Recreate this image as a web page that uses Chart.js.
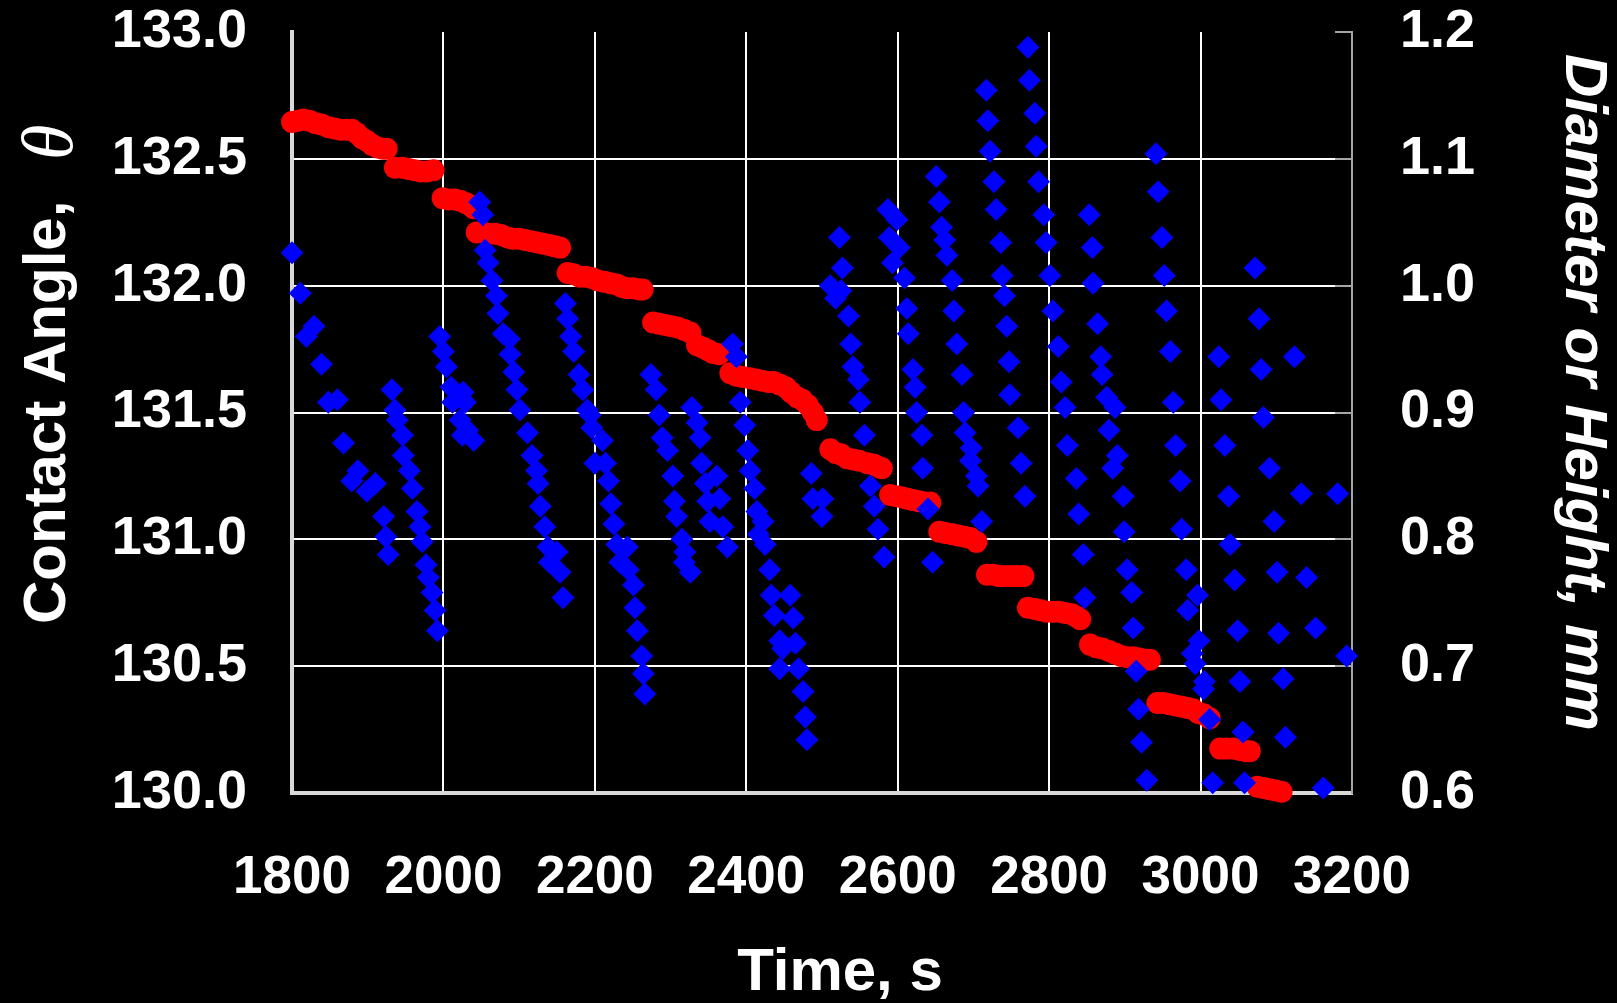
<!DOCTYPE html>
<html>
<head>
<meta charset="utf-8">
<script src="https://cdn.jsdelivr.net/npm/chart.js@4.4.1/dist/chart.umd.min.js"></script>
<style>
  html, body { margin: 0; padding: 0; background: #000; }
  canvas { display: block; }
</style>
</head>
<body>
<canvas id="chart" width="1617" height="1003"></canvas>
<script>
// contact angle readings (blue diamonds, left axis)
const angleTime = [
  1800, 1811, 1819, 1829, 1839, 1848, 1860, 1868, 1879, 1887, 1899, 1910, 1921, 1924, 1927,
  1932, 1936, 1939, 1946, 1947, 1955, 1959, 1965, 1969, 1972, 1977, 1980, 1985, 1989, 1992,
  1995, 2000, 2004, 2010, 2012, 2022, 2025, 2026, 2029, 2032, 2040,
  2048, 2052, 2055, 2059, 2064, 2070, 2072, 2079, 2087, 2088, 2093, 2097, 2101, 2111, 2117, 2123, 2125, 2128, 2134, 2138, 2150, 2140, 2154, 2158,
  2161, 2164, 2168, 2172, 2179, 2184, 2190, 2194, 2196, 2210, 2200, 2214, 2218, 2221, 2225, 2229, 2243, 2233, 2244, 2251, 2253, 2256, 2262, 2264, 2266,
  2274, 2281, 2285, 2289, 2296, 2303, 2305, 2308, 2315, 2319, 2318, 2326,
  2328, 2335, 2339, 2341, 2361, 2346, 2365, 2349, 2352, 2369, 2375,
  2382, 2387, 2392, 2398, 2402, 2405, 2411, 2414, 2422, 2416, 2425, 2431, 2433, 2458, 2437, 2462, 2444, 2465, 2448, 2444, 2469, 2475, 2478, 2480,
  2486, 2488, 2501, 2500,
  2511, 2518, 2525, 2523, 2527, 2535, 2538, 2541, 2548, 2550, 2556, 2564, 2569, 2574, 2582,
  2587, 2599, 2589, 2602, 2593, 2609, 2612, 2614, 2620, 2623, 2625, 2632, 2633, 2640, 2646,
  2651, 2655, 2658, 2662, 2665, 2672, 2674, 2678, 2685, 2687, 2689, 2697, 2696, 2704, 2706, 2711,
  2717, 2719, 2722, 2727, 2730, 2736, 2738, 2741, 2744, 2747, 2748, 2759, 2763, 2768,
  2772, 2774, 2781, 2783, 2786, 2793, 2796, 2801, 2805, 2812, 2816, 2821, 2824, 2836, 2839, 2845, 2847,
  2853, 2857, 2858, 2864, 2868, 2870, 2876, 2887, 2879, 2890, 2884, 2898, 2899, 2903, 2909, 2911, 2915, 2918, 2922, 2929,
  2941, 2944, 2949, 2952, 2955, 2960, 2964, 2967, 2973, 2975, 2981, 2983, 2989, 2993,
  2996, 2998, 3005, 3004, 3012, 3016,
  3024, 3027, 3032, 3037, 3039, 3045, 3049, 3052, 3056, 3058,
  3072, 3077, 3080, 3083, 3091, 3097, 3101, 3103, 3109, 3112,
  3124, 3133, 3140, 3152, 3162, 3181, 3193
];
const angleValue = [
  132.13, 131.97, 131.80, 131.84, 131.69, 131.54, 131.55, 131.38, 131.23, 131.27, 131.19, 131.22, 131.09, 131.01, 130.94,
  131.59, 131.51, 131.47, 131.41, 131.33, 131.27, 131.20, 131.11, 131.05, 130.99, 130.90, 130.85, 130.79, 130.72, 130.64,
  131.80, 131.74, 131.68, 131.60, 131.54, 131.47, 131.41, 131.58, 131.54, 131.43, 131.39,
  132.33, 132.28, 132.14, 132.09, 132.02, 131.96, 131.89, 131.81, 131.79, 131.73, 131.66, 131.59, 131.51, 131.42, 131.33, 131.27, 131.22, 131.13, 131.05, 130.97, 130.95, 130.91, 130.87, 130.77,
  131.93, 131.87, 131.80, 131.74, 131.65, 131.59, 131.51, 131.49, 131.44, 131.39, 131.30, 131.30, 131.23, 131.14, 131.06, 130.98, 130.97, 130.91, 130.88, 130.82, 130.73, 130.64, 130.54, 130.47, 130.39,
  131.65, 131.59, 131.49, 131.40, 131.35, 131.25, 131.15, 131.09, 131.00, 130.95, 130.91, 130.87,
  131.52, 131.46, 131.40, 131.30, 131.25, 131.22, 131.16, 131.15, 131.07, 131.05, 130.97,
  131.77, 131.72, 131.54, 131.45, 131.35, 131.27, 131.20, 131.11, 131.07, 131.02, 130.98, 130.88, 130.78, 130.78, 130.70, 130.69, 130.60, 130.59, 130.57, 130.49, 130.49, 130.40, 130.30, 130.21,
  131.26, 131.16, 131.16, 131.09,
  132.00, 131.95, 131.98, 132.19, 132.07, 131.88, 131.77, 131.68, 131.63, 131.54, 131.41, 131.21, 131.13, 131.04, 130.93,
  132.30, 132.26, 132.19, 132.15, 132.09, 132.03, 131.91, 131.81, 131.67, 131.60, 131.50, 131.41, 131.28, 131.12, 130.91,
  132.43, 132.33, 132.23, 132.18, 132.12, 132.02, 131.90, 131.77, 131.65, 131.50, 131.42, 131.36, 131.31, 131.25, 131.21, 131.07,
  132.77, 132.65, 132.53, 132.41, 132.30, 132.17, 132.04, 131.96, 131.84, 131.70, 131.57, 131.44, 131.30, 131.17,
  132.94, 132.81, 132.68, 132.55, 132.41, 132.28, 132.17, 132.04, 131.90, 131.76, 131.62, 131.52, 131.37, 131.24, 131.10, 130.94, 130.77,
  132.28, 132.15, 132.01, 131.85, 131.72, 131.65, 131.56, 131.52, 131.43, 131.33, 131.28, 131.17, 131.03, 130.88, 130.79, 130.65, 130.48, 130.33, 130.20, 130.05,
  132.52, 132.37, 132.19, 132.04, 131.90, 131.74, 131.54, 131.37, 131.23, 131.04, 130.88, 130.72, 130.55, 130.51,
  130.78, 130.60, 130.44, 130.41, 130.29, 130.04,
  131.72, 131.55, 131.37, 131.17, 130.98, 130.84, 130.64, 130.44, 130.24, 130.04,
  132.07, 131.87, 131.67, 131.48, 131.28, 131.07, 130.87, 130.63, 130.45, 130.22,
  131.72, 131.18, 130.85, 130.65, 130.02, 131.18, 130.54
];

// drop diameter readings (red circles, right axis, mm)
const diamTime = [
  1800, 1808, 1815, 1823, 1831, 1839, 1848, 1856, 1864, 1872, 1879, 1886, 1893, 1899, 1906, 1913, 1920, 1925,
  1936, 1946, 1954, 1962, 1970, 1978, 1987,
  1999, 2007, 2015, 2022, 2030, 2036, 2040,
  2044, 2052, 2060, 2068, 2076, 2085, 2091, 2100, 2108, 2116, 2124, 2132, 2140, 2147, 2154,
  2164, 2172, 2180, 2188, 2196, 2204, 2213, 2221, 2229, 2236, 2243, 2251, 2259, 2263,
  2277, 2285, 2293, 2301, 2309, 2318, 2326,
  2335, 2343, 2350, 2356, 2364,
  2379, 2387, 2395, 2405, 2413, 2421, 2429, 2436, 2444, 2452, 2459, 2467, 2474, 2481, 2488, 2493,
  2511, 2518, 2525, 2533, 2541, 2549, 2560, 2568, 2575, 2579,
  2590, 2598, 2606, 2613, 2620, 2628, 2636, 2643,
  2655, 2663, 2672, 2680, 2688, 2696, 2704,
  2718, 2726, 2734, 2742, 2749, 2757, 2766,
  2772, 2781, 2789, 2797, 2805, 2813, 2821, 2830, 2836, 2841,
  2854, 2862, 2870, 2879, 2887, 2895, 2903, 2911, 2919, 2928, 2933,
  2943, 2951, 2959, 2967, 2975, 2983, 2990, 2997, 3004, 3012,
  3026, 3034, 3043, 3052, 3060, 3065,
  3075, 3083, 3091, 3099, 3107
];
const diamValue = [
  1.129, 1.130, 1.131, 1.130, 1.128, 1.127, 1.125, 1.124, 1.123, 1.123, 1.123, 1.120, 1.116, 1.114, 1.111, 1.109, 1.108, 1.108,
  1.093, 1.093, 1.092, 1.091, 1.090, 1.090, 1.091,
  1.069, 1.068, 1.068, 1.067, 1.065, 1.063, 1.061,
  1.042, 1.042, 1.041, 1.041, 1.040, 1.038, 1.037, 1.037, 1.036, 1.035, 1.034, 1.033, 1.032, 1.031, 1.030,
  1.010, 1.009, 1.007, 1.007, 1.006, 1.004, 1.003, 1.002, 1.001, 0.999, 0.998, 0.998, 0.997, 0.997,
  0.971, 0.970, 0.969, 0.968, 0.967, 0.965, 0.963,
  0.953, 0.951, 0.949, 0.947, 0.946,
  0.931, 0.929, 0.928, 0.927, 0.926, 0.925, 0.924, 0.924, 0.922, 0.920, 0.916, 0.912, 0.910, 0.906, 0.900, 0.894,
  0.871, 0.868, 0.867, 0.864, 0.863, 0.862, 0.860, 0.859, 0.857, 0.856,
  0.835, 0.834, 0.833, 0.832, 0.831, 0.830, 0.829, 0.829,
  0.806, 0.805, 0.804, 0.803, 0.802, 0.801, 0.798,
  0.772, 0.772, 0.771, 0.771, 0.771, 0.771, 0.771,
  0.746, 0.745, 0.744, 0.743, 0.743, 0.743, 0.742, 0.741, 0.739, 0.737,
  0.717, 0.715, 0.714, 0.712, 0.710, 0.708, 0.707, 0.707, 0.706, 0.705, 0.705,
  0.671, 0.671, 0.670, 0.669, 0.668, 0.667, 0.666, 0.663, 0.662, 0.659,
  0.635, 0.635, 0.635, 0.634, 0.633, 0.633,
  0.605, 0.604, 0.603, 0.602, 0.601
];

const xTitle = 'Time, s';
const leftTitle = 'Contact Angle,';
const leftSymbol = 'θ';
const rightTitle = 'Diameter or Height, mm';

const toPoints = (xs, ys) => xs.map((x, i) => ({ x, y: ys[i] }));

// axis titles are placed by hand, like the original sheet
const axisTitles = {
  id: 'axisTitles',
  afterDraw(chart) {
    const ctx = chart.ctx;
    ctx.save();
    ctx.fillStyle = '#ffffff';
    ctx.textBaseline = 'alphabetic';

    ctx.font = 'bold 60px "Liberation Sans", Arial, sans-serif';
    ctx.textAlign = 'center';
    ctx.fillText(xTitle, 840, 990);

    ctx.save();
    ctx.translate(65, 624);
    ctx.rotate(-Math.PI / 2);
    ctx.textAlign = 'left';
    ctx.fillText(leftTitle, 0, 0);
    ctx.font = 'italic 72px "Liberation Serif", "DejaVu Serif", serif';
    ctx.fillText(leftSymbol, 464, 7);
    ctx.restore();

    ctx.save();
    ctx.translate(1566, 54);
    ctx.rotate(Math.PI / 2);
    ctx.textAlign = 'left';
    ctx.font = 'italic bold 60px "Liberation Sans", Arial, sans-serif';
    ctx.fillText(rightTitle, 0, 0);
    ctx.restore();

    ctx.restore();
  }
};

const tickFont = { family: '"Liberation Sans", Arial, sans-serif', weight: 'bold', size: 54 };

// keep the plot box where the original has it: the label paddings must not push it
const fixWidth = (w) => (s) => { s.width = w; s.paddingTop = 0; s.paddingBottom = 0; };

new Chart(document.getElementById('chart'), {
  type: 'scatter',
  data: {
    datasets: [
      {
        label: 'Contact angle',
        data: toPoints(angleTime, angleValue),
        yAxisID: 'y',
        pointStyle: 'rectRot',
        pointRadius: 11.5,
        pointBorderWidth: 0,
        backgroundColor: '#0000ff',
        borderColor: '#0000ff',
        clip: false
      },
      {
        label: 'Diameter',
        data: toPoints(diamTime, diamValue),
        yAxisID: 'y2',
        pointStyle: 'circle',
        pointRadius: 11,
        pointBorderWidth: 0,
        backgroundColor: '#ff0000',
        borderColor: '#ff0000',
        clip: false
      }
    ]
  },
  options: {
    responsive: false,
    animation: false,
    layout: { padding: { top: 32, left: 0, right: 0, bottom: 0 } },
    plugins: {
      legend: { display: false },
      tooltip: { enabled: false }
    },
    scales: {
      x: {
        type: 'linear',
        min: 1800,
        max: 3200,
        afterFit: (s) => { s.height = 210; s.paddingLeft = 0; s.paddingRight = 0; },
        ticks: {
          stepSize: 200,
          color: '#ffffff',
          padding: 54,
          font: { family: '"Liberation Sans", Arial, sans-serif', weight: 'bold', size: 53 },
          callback: (v) => String(v)
        },
        grid: {
          drawTicks: false,
          lineWidth: 2,
          color: (c) => (c.tick && (c.tick.value === 1800 || c.tick.value === 3200)) ? 'rgba(0,0,0,0)' : '#ffffff'
        },
        border: { color: '#d9d9d9', width: 4 }
      },
      y: {
        type: 'linear',
        position: 'left',
        min: 130,
        max: 133,
        afterFit: fixWidth(292),
        ticks: {
          stepSize: 0.5,
          color: '#ffffff',
          padding: 45,
          font: tickFont,
          callback: (v) => v.toFixed(1)
        },
        grid: {
          drawTicks: false,
          lineWidth: 2,
          color: (c) => (c.tick && (c.tick.value === 133 || c.tick.value === 130)) ? 'rgba(0,0,0,0)' : '#ffffff'
        },
        border: { color: '#d9d9d9', width: 4 }
      },
      y2: {
        type: 'linear',
        position: 'right',
        min: 0.6,
        max: 1.2,
        afterFit: fixWidth(265),
        ticks: {
          stepSize: 0.1,
          color: '#ffffff',
          padding: 65,
          font: tickFont,
          callback: (v) => v.toFixed(1)
        },
        grid: {
          drawOnChartArea: false,
          drawTicks: true,
          tickLength: -17,
          lineWidth: 2,
          color: '#a6a6a6'
        },
        border: { color: '#a6a6a6', width: 2 }
      }
    }
  },
  plugins: [axisTitles]
});
</script>
</body>
</html>
